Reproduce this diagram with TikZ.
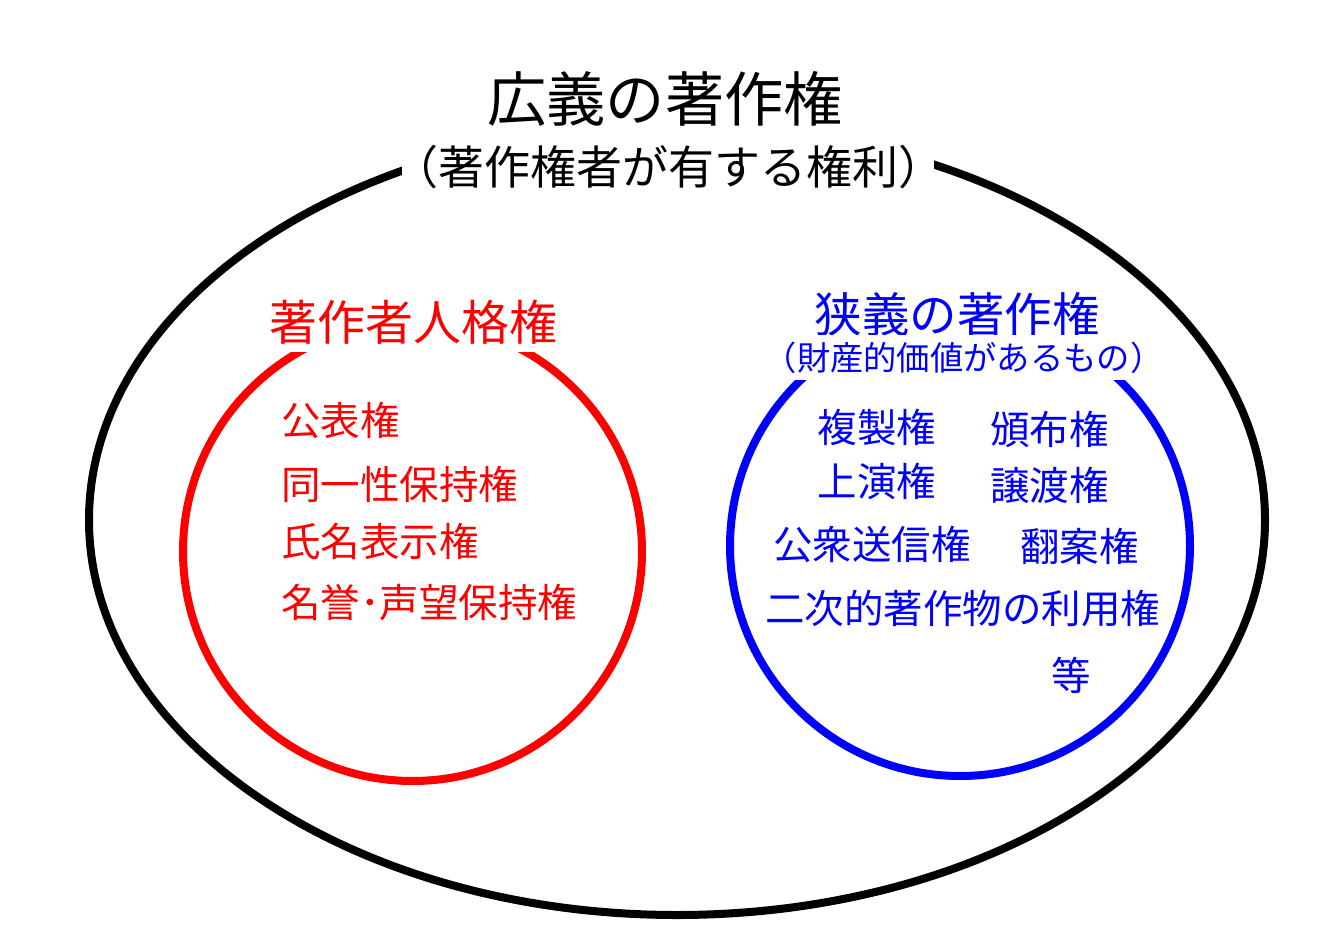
\documentclass[tikz,border=0pt]{standalone}
\usepackage{fontspec}
\setmainfont{Noto Sans CJK JP}
\usepackage{xcolor}

\begin{document}
\begin{tikzpicture}[x=1pt, y=-1pt]
        % ================= 样式定义 =================
        \tikzset{
            % 字号:同时设定字高与字深
            fsize/.code={\pgfmathsetmacro\fht{0.88*#1}\pgfmathsetmacro\fdp{0.12*#1}%
                \edef\fsizeset{\noexpand\tikzset{font=\noexpand\fontsize{#1}{#1}\noexpand\selectfont, text height=\fht pt, text depth=\fdp pt}}\fsizeset},
            % 圆环样式:粗线
            ring/.style={line width=8pt},
            % 标题样式:白底,遮住圆环
            headnode/.style={fill=white, inner xsep=0pt},
            % 条目样式
            itemnode/.style={inner sep=0pt, fsize=39.5}
        }
        \useasboundingbox (0,0) rectangle (1340,949);

        % ================= 圆环 =================
        \draw[ring, black] (677,520) ellipse [x radius=588, y radius=395];
        \draw[ring, red] (412.5,551.5) circle [radius=229.5];
        \draw[ring, blue] (960,546) circle [radius=230];

        % ================= 标题 =================
        % 1. 广义
        \node[headnode, inner ysep=10pt, fsize=59.3] (kougi) at (665,99) {広義の著作権};
        \node[headnode, inner ysep=8pt, inner xsep=-10pt, fsize=46] (kougisub) at (668,167) {（著作権者が有する権利）};

        % 2. 著作者人格権
        \node[headnode, text=red, inner ysep=6pt, fsize=48] (jinkaku) at (413.5,322) {著作者人格権};

        % 3. 狭义
        \node[headnode, text=blue, inner ysep=4pt, fsize=47.5] (kyougi) at (957,314) {狭義の著作権};
        \node[headnode, text=blue, inner ysep=5.8pt, fsize=33.3] (kyougisub) at (963.5,357.5) {（財産的価値があるもの）};

        % ================= 条目 (红) =================
        \node[itemnode, text=red, anchor=west] (kouhyou) at (281,420) {公表権};
        \node[itemnode, text=red, anchor=west] (douitsu) at (281,484) {同一性保持権};
        \node[itemnode, text=red, anchor=west] (shimei) at (281,541.5) {氏名表示権};
        \node[itemnode, text=red, anchor=west] (meiyo) at (281,602.5) {名誉･声望保持権};

        % ================= 条目 (蓝) =================
        \node[itemnode, text=blue] (fukusei) at (877,427.5) {複製権};
        \node[itemnode, text=blue] (hanpu) at (1049.5,429.5) {頒布権};
        \node[itemnode, text=blue] (jouen) at (877,481.5) {上演権};
        \node[itemnode, text=blue] (jouto) at (1049.5,485) {譲渡権};
        \node[itemnode, text=blue] (koushuu) at (872,544.5) {公衆送信権};
        \node[itemnode, text=blue] (honan) at (1079.5,546) {翻案権};
        \node[itemnode, text=blue] (niji) at (962.5,608.5) {二次的著作物の利用権};
        \node[itemnode, text=blue] (tou) at (1071,675.5) {等};

    \end{tikzpicture}
\end{document}
